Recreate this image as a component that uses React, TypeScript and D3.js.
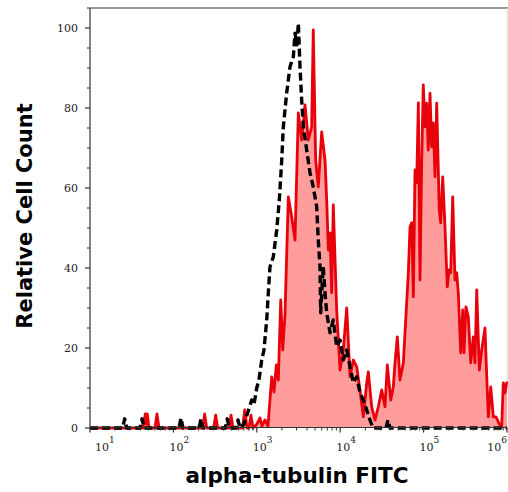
import React from "react";
import * as d3 from "d3";

// log10(FITC) , relative count
const stainedLog = [
  1.0, 1.636, 1.663, 1.675, 1.687, 1.707, 1.779, 1.803, 1.827, 2.351, 2.375, 2.399,
  2.483, 2.507, 2.531, 2.667, 2.691, 2.715, 2.829, 2.855, 2.883, 2.906, 2.93, 2.954,
  3.002, 3.038, 3.062, 3.098, 3.134, 3.179, 3.206, 3.234, 3.258, 3.287, 3.311, 3.338,
  3.378, 3.418, 3.458, 3.498, 3.538, 3.578, 3.618, 3.658, 3.677, 3.706, 3.737, 3.778,
  3.818, 3.838, 3.858, 3.878, 3.898, 3.917, 3.958, 3.998, 4.037, 4.078, 4.118, 4.157,
  4.198, 4.237, 4.277, 4.318, 4.337, 4.378, 4.417, 4.457, 4.498, 4.537, 4.565, 4.606,
  4.637, 4.657, 4.685, 4.717, 4.757, 4.797, 4.817, 4.837, 4.858, 4.877, 4.897, 4.917,
  4.937, 4.957, 4.977, 4.996, 5.017, 5.037, 5.056, 5.077, 5.097, 5.116, 5.137, 5.157,
  5.188, 5.205, 5.229, 5.253, 5.284, 5.305, 5.325, 5.349, 5.376, 5.397, 5.416, 5.445,
  5.469, 5.484, 5.508, 5.536, 5.565, 5.596, 5.616, 5.637, 5.668, 5.697, 5.736, 5.757,
  5.776, 5.805, 5.836, 5.868, 5.9, 5.936, 5.956, 5.976, 5.996, 6.0,
];
const stainedCount = [
  0, 0, 3.5, 1, 3.5, 0, 0, 3.5, 0, 0, 3.5, 0,
  0, 3.2, 0, 0, 3.2, 0, 0, 4.5, 0, 0, 3.2, 0,
  1, 2.5, 0.5, 2, 0.5, 12.8, 9, 15.8, 12, 32, 19.5, 28.3,
  57.8, 52.8, 47, 78.8, 72, 80.8, 72, 75.3, 99.5, 67, 60.3, 74,
  67, 57, 44.5, 48.8, 33.8, 55.8, 29.5, 14.5, 19.5, 30, 12.8, 17,
  15.3, 9.5, 2.8, 11.3, 14, 5.3, 2, 5.3, 9.5, 5.3, 15.8, 7,
  10.3, 16.3, 22.8, 12, 16.3, 31.3, 38.8, 50.3, 51.3, 32.8, 64.5, 61.3,
  81.3, 37, 66.3, 85.8, 75.3, 81.2, 69.5, 83.7, 70.3, 76.3, 62.8, 81.2,
  54.5, 51.3, 62.8, 52, 35.3, 39.5, 38.8, 57.8, 37, 38.8, 33.8, 18.8,
  29.5, 18.8, 30.3, 27.8, 16.3, 22.8, 16.3, 34.5, 14.5, 19.5, 25, 12.8,
  2.8, 10.3, 2.8, 2.8, 1.3, 0.3, 11.3, 8.8, 11.3, 11,
];

const controlLog = [
  1.0, 1.391, 1.416, 1.44, 1.6, 1.624, 1.647, 2.067, 2.091, 2.115, 2.307, 2.331, 2.355,
  2.622, 2.646, 2.67, 2.751, 2.775, 2.799, 2.847, 2.894, 2.939, 2.966, 2.999, 3.026,
  3.059, 3.086, 3.119, 3.138, 3.158, 3.198, 3.239, 3.27, 3.299, 3.318, 3.358, 3.398,
  3.438, 3.458, 3.482, 3.498, 3.518, 3.538, 3.558, 3.598, 3.638, 3.677, 3.718, 3.737,
  3.758, 3.766, 3.797, 3.818, 3.838, 3.878, 3.917, 3.958, 3.998, 4.037, 4.078, 4.118,
  4.157, 4.198, 4.237, 4.277, 4.318, 4.357, 4.394, 4.549, 4.573, 4.597, 6.0,
];
const controlCount = [
  0, 0, 2.3, 0, 0, 2.3, 0, 0, 2.5, 0, 0, 2.3, 0,
  0, 2.3, 0, 0, 2, 0, 1, 4, 7, 5.8, 10, 12,
  17, 19.5, 27, 33.8, 40.3, 42.8, 49.5, 57, 67, 75.3, 83.7, 90.3,
  92.8, 98.7, 95.8, 101.2, 90.3, 82, 75.3, 69.5, 63.8, 60.3, 55.3, 47,
  40.3, 28.8, 40.3, 33.8, 28.8, 23.8, 27, 20.3, 22, 17, 19.5, 15.3,
  11.3, 12.8, 8.8, 7, 4.5, 2, 0, 0, 2, 0, 0,
];

const yTicks = [0, 20, 40, 60, 80, 100];
const decades = [1, 2, 3, 4, 5, 6];

const W = 508;
const H = 492;
const left = 90;
const right = 507;
const top = 8;
const bottom = 428;

export default function App() {
  const x = d3.scaleLog().domain([10, 1e6]).range([left, right]);
  const y = d3.scaleLinear().domain([0, 105]).range([bottom, top]);

  const stained = stainedLog.map((v, i) => [10 ** v, stainedCount[i]] as [number, number]);
  const control = controlLog.map((v, i) => [10 ** v, controlCount[i]] as [number, number]);

  const area = d3
    .area<[number, number]>()
    .x((d) => x(d[0]))
    .y0(y(0))
    .y1((d) => y(d[1]));
  const line = d3
    .line<[number, number]>()
    .x((d) => x(d[0]))
    .y((d) => y(d[1]));

  const minorY = d3.range(0, 106, 5).filter((v) => v % 20 !== 0);
  const minorX: number[] = [];
  decades.slice(0, -1).forEach((n) => {
    for (let k = 2; k <= 9; k++) minorX.push(k * 10 ** n);
  });

  const axisY = y(0) - 0.5;

  return (
    <svg
      width={W}
      height={H}
      style={{ position: "absolute", left: 0, top: 0, background: "#fff" }}
    >
      {/* frame */}
      <line x1={left} x2={W} y1={top} y2={top} stroke="#333" strokeWidth={1.2} />
      <line x1={right} x2={right} y1={top} y2={axisY} stroke="#ddd" strokeWidth={1} />

      {/* histograms */}
      <path d={area(stained) ?? ""} fill="#ff9c9c" stroke="none" />
      <path
        d={line(stained) ?? ""}
        fill="none"
        stroke="#e8000a"
        strokeWidth={2.8}
        strokeLinejoin="round"
      />
      <path
        d={line(control) ?? ""}
        fill="none"
        stroke="#000"
        strokeWidth={3.4}
        strokeDasharray="8,4"
        strokeLinejoin="round"
      />

      {/* y axis */}
      <line x1={left} x2={left} y1={top} y2={axisY} stroke="#333" strokeWidth={1.2} />
      {minorY.map((v) => (
        <line key={"my" + v} x1={left - 3} x2={left} y1={y(v)} y2={y(v)} stroke="#333" />
      ))}
      {yTicks.map((v) => (
        <g key={"y" + v}>
          <line x1={left - 5} x2={left} y1={y(v)} y2={y(v)} stroke="#333" strokeWidth={1.2} />
          <text
            x={left - 12}
            y={y(v) + 4}
            textAnchor="end"
            fontFamily="DejaVu Serif"
            fontSize={11}
            fill="#222"
          >
            {v}
          </text>
        </g>
      ))}

      {/* x axis */}
      <line x1={left} x2={right} y1={axisY} y2={axisY} stroke="#333" strokeWidth={1.2} />
      {minorX.map((v) => (
        <line key={"mx" + v} x1={x(v)} x2={x(v)} y1={axisY} y2={axisY + 3} stroke="#333" />
      ))}
      {decades.map((n, i) => {
        const tx = x(10 ** n);
        const last = i === decades.length - 1;
        const lx = i === 0 ? tx + 5 : last ? tx : tx - 4;
        return (
          <g key={"x" + n}>
            <line x1={tx} x2={tx} y1={axisY} y2={axisY + 5} stroke="#333" strokeWidth={1.2} />
            <text
              x={lx}
              y={451}
              textAnchor={last ? "end" : "start"}
              fontFamily="DejaVu Serif"
              fontSize={11}
              fill="#222"
            >
              10
              <tspan dy={-8} fontSize={9}>
                {n}
              </tspan>
            </text>
          </g>
        );
      })}

      {/* titles */}
      <text
        x={297}
        y={483}
        textAnchor="middle"
        fontFamily="DejaVu Sans"
        fontWeight="bold"
        fontSize={21.5}
        fill="#000"
      >
        alpha-tubulin FITC
      </text>
      <text
        transform={`translate(32,${216}) rotate(-90)`}
        textAnchor="middle"
        fontFamily="DejaVu Sans"
        fontWeight="bold"
        fontSize={21}
        fill="#000"
      >
        Relative Cell Count
      </text>
    </svg>
  );
}
